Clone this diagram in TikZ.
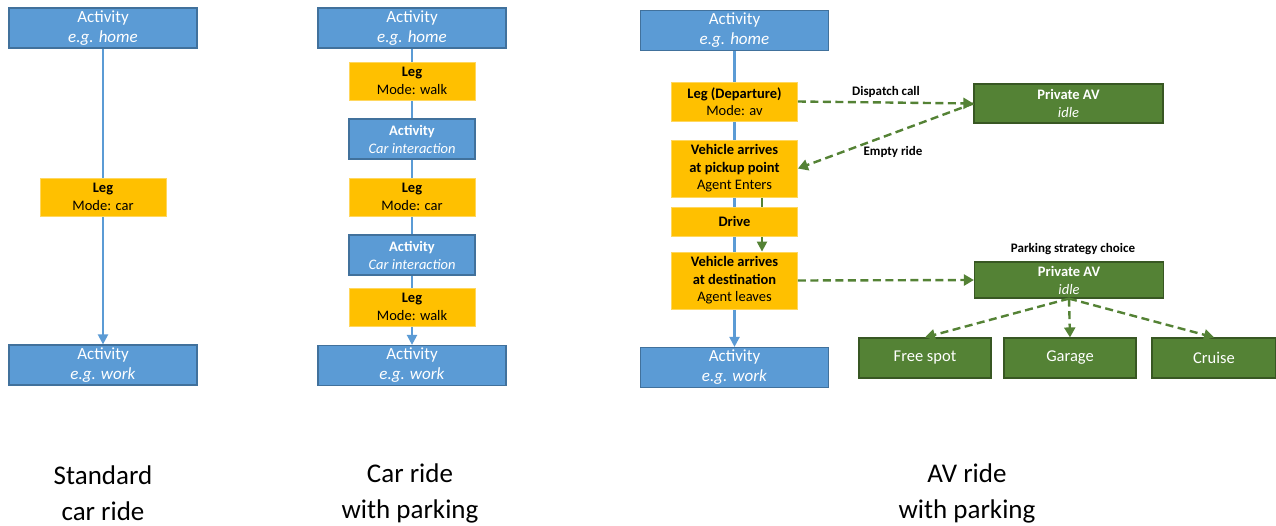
\documentclass[tikz,border=0pt]{standalone}
\usepackage{fontspec}
\setmainfont{Carlito}
\usetikzlibrary{arrows.meta,backgrounds,calc}
\definecolor{actblue}{HTML}{5B9BD5}
\definecolor{actborder}{HTML}{41719C}
\definecolor{leggold}{HTML}{FFC000}
\definecolor{legborder}{HTML}{FFD75E}
\definecolor{avgreen}{HTML}{548235}
\definecolor{avborder}{HTML}{385723}
\tikzset{
  actbox/.style={rectangle, fill=actblue, draw=actborder, line width=1.2pt, text=white,
    align=center, inner sep=0pt, minimum width=188pt, minimum height=40pt,
    font=\fontsize{17}{20}\selectfont},
  actsmall/.style={actbox, minimum width=126pt, font=\fontsize{14.5}{18}\selectfont},
  legbox/.style={rectangle, fill=leggold, draw=legborder, line width=0.8pt, text=black,
    align=center, inner sep=0pt, minimum width=126pt, minimum height=38pt,
    font=\fontsize{14.5}{17.5}\selectfont},
  avbox/.style={rectangle, fill=avgreen, draw=avborder, line width=1.2pt, text=white,
    align=center, inner sep=0pt, minimum width=189pt, minimum height=38pt,
    font=\fontsize{14.5}{18}\selectfont},
  parkbox/.style={avbox, minimum width=132pt, minimum height=40pt,
    font=\fontsize{16.5}{20}\selectfont},
  blueline/.style={draw=actblue, line width=2.2pt},
  bluearrow/.style={blueline, -{Triangle[length=10pt,width=10pt]}},
  greenarrow/.style={draw=avgreen, line width=2.2pt, -{Triangle[length=10pt,width=10pt]}},
  greendash/.style={draw=avgreen, line width=2.4pt, dash pattern=on 8pt off 4.5pt,
    -{Triangle[length=10pt,width=11pt]}},
  edgelabel/.style={inner sep=0pt, text=black, font=\fontsize{13}{15}\selectfont\bfseries},
  title/.style={inner sep=0pt, align=center, text=black, font=\fontsize{27}{36}\selectfont}
}
\begin{document}
\begin{tikzpicture}[x=1pt,y=-1pt]
\useasboundingbox (0,0) rectangle (1276,525);

% Column 1: standard car ride
\node[actbox] (h1) at (103,28) {Activity\\\textit{e.g. home}};
\node[legbox] (l1) at (103,197) {\textbf{Leg}\\Mode: car};
\node[actbox] (w1) at (103,365) {Activity\\\textit{e.g. work}};

% Column 2: car ride with parking
\node[actbox] (h2) at (412,28) {Activity\\\textit{e.g. home}};
\node[legbox] (l2a) at (412,81) {\textbf{Leg}\\Mode: walk};
\node[actsmall] (c2a) at (412,139) {\textbf{Activity}\\\textit{Car interaction}};
\node[legbox] (l2b) at (412,197) {\textbf{Leg}\\Mode: car};
\node[actsmall] (c2b) at (412,255) {\textbf{Activity}\\\textit{Car interaction}};
\node[legbox] (l2c) at (412,307) {\textbf{Leg}\\Mode: walk};
\node[actbox] (w2) at (412,365.5) {Activity\\\textit{e.g. work}};

% Column 3: AV ride with parking
\node[actbox] (h3) at (734.5,30.5) {Activity\\\textit{e.g. home}};
\node[legbox, minimum height=39pt] (ld) at (734.5,101.5) {\textbf{Leg (Departure)}\\Mode: av};
\node[legbox, minimum height=57pt] (pk) at (734.5,168.5) {\textbf{Vehicle arrives}\\\textbf{at pickup point}\\Agent Enters};
\node[legbox, minimum height=29pt] (dr) at (734.5,221.5) {\textbf{Drive}};
\node[legbox, minimum height=57pt] (ds) at (734.5,280.5) {\textbf{Vehicle arrives}\\\textbf{at destination}\\Agent leaves};
\node[actbox] (w3) at (734.5,367.5) {Activity\\\textit{e.g. work}};

\node[avbox, minimum height=39pt] (pav1) at (1068.5,103.5) {\textbf{Private AV}\\\textit{idle}};
\node[avbox, minimum height=36pt] (pav2) at (1069,280) {\textbf{Private AV}\\\textit{idle}};
\node[edgelabel] (psc) at (1073,249) {Parking strategy choice};
\node[parkbox] (fs) at (925,358) {Free spot};
\node[parkbox] (gar) at (1070,358) {Garage};
\node[parkbox, minimum width=124pt] (cru) at (1214,358) {Cruise};

\node[edgelabel] (dc) at (886,92) {Dispatch call};
\node[edgelabel] (er) at (893,152) {Empty ride};

% Titles
\node[title] (t1) at (103,493) {Standard\\car ride};
\node[title] (t2) at (410,493) {Car ride\\with parking};
\node[title] (t3) at (967,493) {AV ride\\with parking};

\begin{pgfonlayer}{background}
  \draw[blueline] (h1) -- (l1);
  \draw[bluearrow] (l1) -- (w1);

  \draw[blueline] (h2) -- (l2a);
  \draw[blueline] (l2a) -- (c2a);
  \draw[blueline] (c2a) -- (l2b);
  \draw[blueline] (l2b) -- (c2b);
  \draw[blueline] (c2b) -- (l2c);
  \draw[bluearrow] (l2c) -- (w2);

  \draw[blueline] (h3) -- (ld);
  \draw[blueline] (ld) -- (pk);
  \draw[blueline] (pk) -- (dr);
  \draw[blueline] (dr) -- (ds);
  \draw[bluearrow] (ds) -- (w3);

  \draw[greenarrow] ($(pk.south)+(27.5,0)$) -- ($(ds.north)+(27.5,0)$);
\end{pgfonlayer}

\draw[greendash] (ld.east) -- (pav1.west);
\draw[greendash] (pav1.west) -- (pk.east);
\draw[greendash] (ds.east) -- (pav2.west);
\draw[greendash] (pav2.south) -- (fs.north);
\draw[greendash] (pav2.south) -- (gar.north);
\draw[greendash] (pav2.south) -- (cru.north);
\end{tikzpicture}
\end{document}
